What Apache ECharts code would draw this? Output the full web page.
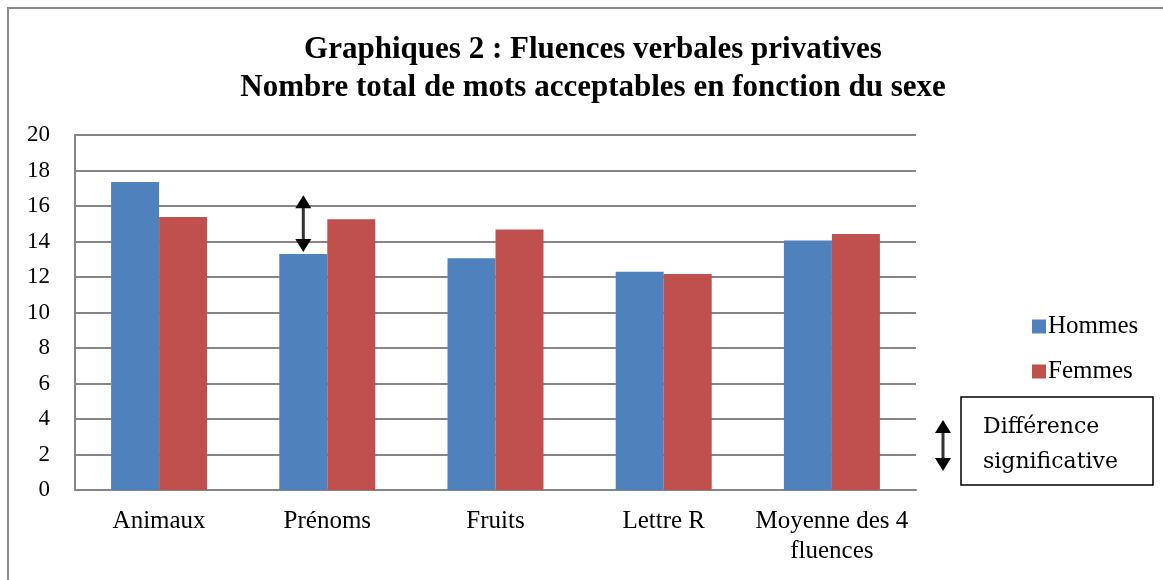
<!DOCTYPE html>
<html>
<head>
<meta charset="utf-8">
<script src="https://cdn.jsdelivr.net/npm/echarts@6/dist/echarts.min.js"></script>
<style>
  html, body { margin: 0; padding: 0; background: #fff; }
  #chart { width: 1163px; height: 580px; }
</style>
</head>
<body>
<div id="chart"></div>
<script>
// data
const categories = ['Animaux', 'Prénoms', 'Fruits', 'Lettre R', 'Moyenne des 4\nfluences']
const hommes = [17.35, 13.3, 13.05, 12.3, 14.05]
const femmes = [15.38, 15.25, 14.68, 12.17, 14.42]
const yTicks = [0, 2, 4, 6, 8, 10, 12, 14, 16, 18, 20]

const serif = 'Liberation Serif'
const gridColor = '#868686'

const chart = echarts.init(document.getElementById('chart'))

const option = {
  backgroundColor: '#fff',
  animation: false,
  title: {
    text: 'Graphiques 2 : Fluences verbales privatives\nNombre total de mots acceptables en fonction du sexe',
    left: 588,
    textAlign: 'center',
    top: 26,
    textStyle: {
      fontFamily: serif,
      fontSize: 31,
      fontWeight: 'bold',
      color: '#000',
      lineHeight: 38
    }
  },
  legend: {
    orient: 'vertical',
    left: 1027,
    top: 309,
    icon: 'rect',
    itemWidth: 14,
    itemHeight: 14,
    itemGap: 20,
    textStyle: { fontFamily: serif, fontSize: 25, color: '#000', padding: [0, 0, 0, -3] },
    data: ['Hommes', 'Femmes']
  },
  grid: { left: 75, right: 247, top: 135, bottom: 90 },
  xAxis: {
    type: 'category',
    data: categories,
    axisLine: { lineStyle: { color: gridColor, width: 2 } },
    axisTick: { show: false },
    axisLabel: {
      interval: 0,
      hideOverlap: false,
      fontFamily: serif,
      fontSize: 25,
      color: '#000',
      lineHeight: 30,
      margin: 16
    }
  },
  yAxis: {
    type: 'value',
    min: yTicks[0],
    max: yTicks[yTicks.length - 1],
    interval: 2,
    axisLine: { show: true, lineStyle: { color: gridColor, width: 2 } },
    axisTick: { show: false },
    axisLabel: { fontFamily: serif, fontSize: 23, color: '#000', margin: 25 },
    splitLine: { lineStyle: { color: gridColor, width: 2 } }
  },
  series: [
    {
      name: 'Hommes',
      type: 'bar',
      data: hommes,
      barWidth: 48,
      barGap: '0%',
      itemStyle: { color: '#4F81BD' }
    },
    {
      name: 'Femmes',
      type: 'bar',
      data: femmes,
      barWidth: 48,
      itemStyle: { color: '#C0504D' }
    }
  ]
}
chart.setOption(option)

// double arrow drawn as a group of a line and two triangles
function arrow (x, y1, y2) {
  return {
    type: 'group',
    children: [
      { type: 'line', shape: { x1: x, y1: y1 + 8, x2: x, y2: y2 - 8 }, style: { stroke: '#333', lineWidth: 3 } },
      { type: 'polygon', shape: { points: [[x, y1], [x - 8, y1 + 13], [x + 8, y1 + 13]] }, style: { fill: '#000' } },
      { type: 'polygon', shape: { points: [[x, y2], [x - 8, y2 - 13], [x + 8, y2 - 13]] }, style: { fill: '#000' } }
    ]
  }
}

// arrow sits on the Prénoms "Hommes" bar, between its top and ~16.6
const pBase = chart.convertToPixel({ gridIndex: 0 }, [1, hommes[1]])
const pTop = chart.convertToPixel({ gridIndex: 0 }, [1, 16.6])
const arrowX = pBase[0] - 24

chart.setOption({
  graphic: [
    { type: 'rect', shape: { x: 8, y: 8, width: 1200, height: 620 }, style: { fill: null, stroke: '#8c8c8c', lineWidth: 2 }, silent: true },
    arrow(arrowX, pTop[1], pBase[1] - 2),
    arrow(943, 420, 471),
    { type: 'rect', shape: { x: 961, y: 397, width: 192, height: 88 }, style: { fill: '#fff', stroke: '#000', lineWidth: 1.5 } },
    {
      type: 'text',
      left: 983,
      top: 410,
      style: {
        text: 'Différence\nsignificative',
        font: '22px "DejaVu Serif"',
        lineHeight: 35,
        fill: '#000'
      }
    }
  ]
})
</script>
</body>
</html>
